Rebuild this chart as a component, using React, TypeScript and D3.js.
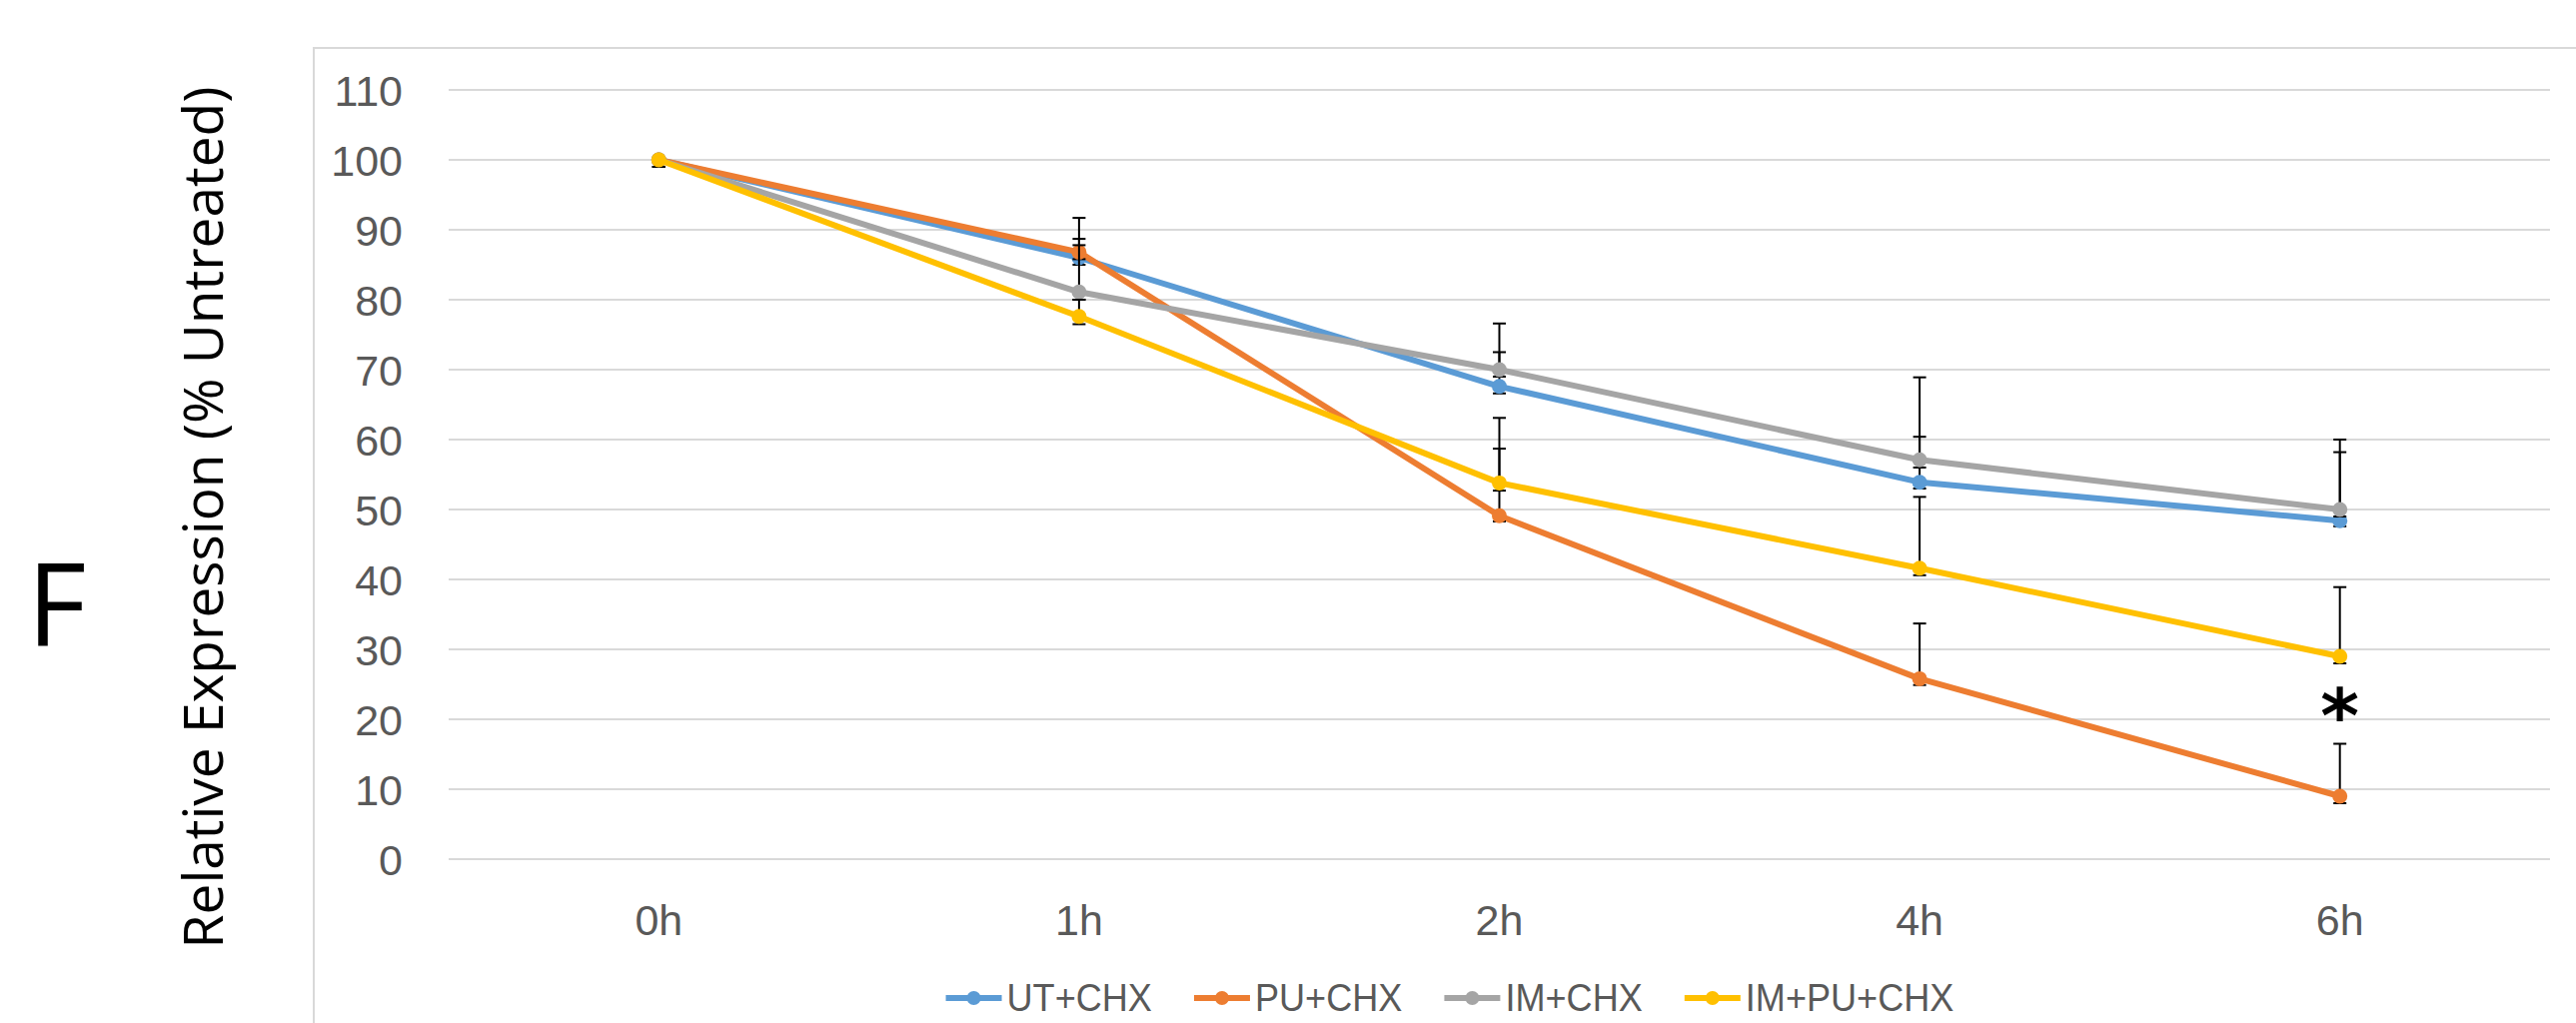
import React from 'react'
import * as d3 from 'd3'

// values
const times = ['0h', '1h', '2h', '4h', '6h']
const seriesNames = ['UT+CHX', 'PU+CHX', 'IM+CHX', 'IM+PU+CHX']
const colors = ['#5B9BD5', '#ED7D31', '#A5A5A5', '#FFC000']

const utChx = [100, 86.0, 67.6, 53.9, 48.4]
const puChx = [100, 86.8, 49.1, 25.8, 9.0]
const imChx = [100, 81.1, 70.0, 57.1, 50.0]
const imPuChx = [100, 77.6, 53.8, 41.6, 29.0]

// error bar ends (upper / lower)
const utHi = [100, 88.7, 72.5, 60.4, 58.2]
const utLo = [99, 85.0, 66.6, 53.0, 47.6]
const puHi = [100, 91.7, 58.7, 33.7, 16.5]
const puLo = [99, 85.8, 48.3, 24.9, 8.0]
const imHi = [100, 87.8, 76.6, 68.9, 60.0]
const imLo = [99, 80.0, 69.0, 56.0, 49.0]
const imPuHi = [100, 80.0, 63.1, 51.8, 38.9]
const imPuLo = [99, 76.5, 52.7, 40.6, 28.0]

const yTicks = [0, 10, 20, 30, 40, 50, 60, 70, 80, 90, 100, 110]

const series = [
  { name: seriesNames[0], color: colors[0], values: utChx, hi: utHi, lo: utLo },
  { name: seriesNames[1], color: colors[1], values: puChx, hi: puHi, lo: puLo },
  { name: seriesNames[2], color: colors[2], values: imChx, hi: imHi, lo: imLo },
  { name: seriesNames[3], color: colors[3], values: imPuChx, hi: imPuHi, lo: imPuLo },
]

const W = 2578
const H = 1024
const labelFont = '"Liberation Sans", Arial, sans-serif'

function textWidth(text, font) {
  const c = document.createElement('canvas').getContext('2d')
  c.font = font
  return c.measureText(text).width
}

export default function App() {
  const plot = { left: 449, right: 2552, top: 90, bottom: 860 }

  const x = d3.scalePoint().domain(times).range([plot.left, plot.right]).padding(0.5)
  const y = d3.scaleLinear().domain([0, 110]).range([plot.bottom, plot.top])

  const line = d3.line().x((d, i) => x(times[i])).y(d => y(d))

  // legend layout, centred under the chart; text squeezed a little to mimic a narrow face
  const legendFontSize = 38
  const squeeze = 0.95
  const swatch = 56
  const gap = 5
  const itemGap = 42
  const widths = seriesNames.map(n => textWidth(n, `${legendFontSize}px ${labelFont}`) * squeeze)
  const total = d3.sum(widths) + seriesNames.length * (swatch + gap) + (seriesNames.length - 1) * itemGap
  let cursor = 1451 - total / 2
  const legendItems = seriesNames.map((n, i) => {
    const item = { name: n, color: colors[i], x: cursor }
    cursor += swatch + gap + widths[i] + itemGap
    return item
  })
  const legendY = 999

  const capHalf = 6.5

  return (
    <svg width={W} height={H} style={{ position: 'absolute', left: 0, top: 0, background: '#fff' }}>
      <rect x={0} y={0} width={W} height={H} fill="#fff" />
      {/* chart area border */}
      <rect x={314} y={48} width={W} height={H} fill="none" stroke="#D9D9D9" strokeWidth={2} />

      {/* panel letter */}
      <text x={27} y={646} fontFamily='"Open Sans", sans-serif' fontSize={115} fill="#000">F</text>

      {/* y axis title */}
      <text transform="translate(223,518) rotate(-90)" textAnchor="middle"
        fontFamily='"Open Sans", sans-serif' fontSize={55} fill="#000">
        Relative Expression (% Untreated)
      </text>

      {/* gridlines and tick labels */}
      <g>
        {yTicks.map(t => (
          <g key={t}>
            <line x1={plot.left} x2={plot.right} y1={y(t)} y2={y(t)} stroke="#D9D9D9" strokeWidth={2} />
            <text x={403} y={y(t) + 15.5} textAnchor="end" fontFamily={labelFont} fontSize={43} fill="#595959">{t}</text>
          </g>
        ))}
      </g>

      {/* category labels */}
      <g>
        {times.map(t => (
          <text key={t} x={x(t)} y={936} textAnchor="middle" fontFamily={labelFont} fontSize={43} fill="#595959">{t}</text>
        ))}
      </g>

      {/* series */}
      {series.map(s => (
        <g key={s.name}>
          <path d={line(s.values)} fill="none" stroke={s.color} strokeWidth={6} strokeLinejoin="round" />
          {s.values.map((v, i) => (
            <g key={i} stroke="#000" strokeWidth={2}>
              <line x1={x(times[i])} x2={x(times[i])} y1={y(s.hi[i])} y2={y(s.lo[i])} />
              <line x1={x(times[i]) - capHalf} x2={x(times[i]) + capHalf} y1={y(s.hi[i])} y2={y(s.hi[i])} />
              <line x1={x(times[i]) - capHalf} x2={x(times[i]) + capHalf} y1={y(s.lo[i])} y2={y(s.lo[i])} />
            </g>
          ))}
          {s.values.map((v, i) => (
            <circle key={i} cx={x(times[i])} cy={y(v)} r={7.5} fill={s.color} />
          ))}
        </g>
      ))}

      {/* significance mark */}
      <text x={x('6h')} y={743} textAnchor="middle" fontFamily='"DejaVu Sans", sans-serif'
        fontWeight="bold" fontSize={74} fill="#000">*</text>

      {/* legend */}
      <g>
        {legendItems.map(item => (
          <g key={item.name}>
            <line x1={item.x} x2={item.x + swatch} y1={legendY} y2={legendY} stroke={item.color} strokeWidth={6} />
            <circle cx={item.x + swatch / 2} cy={legendY} r={7} fill={item.color} />
            <text transform={`translate(${item.x + swatch + gap},${legendY + 13}) scale(${squeeze},1)`}
              fontFamily={labelFont} fontSize={legendFontSize} fill="#595959">{item.name}</text>
          </g>
        ))}
      </g>
    </svg>
  )
}
